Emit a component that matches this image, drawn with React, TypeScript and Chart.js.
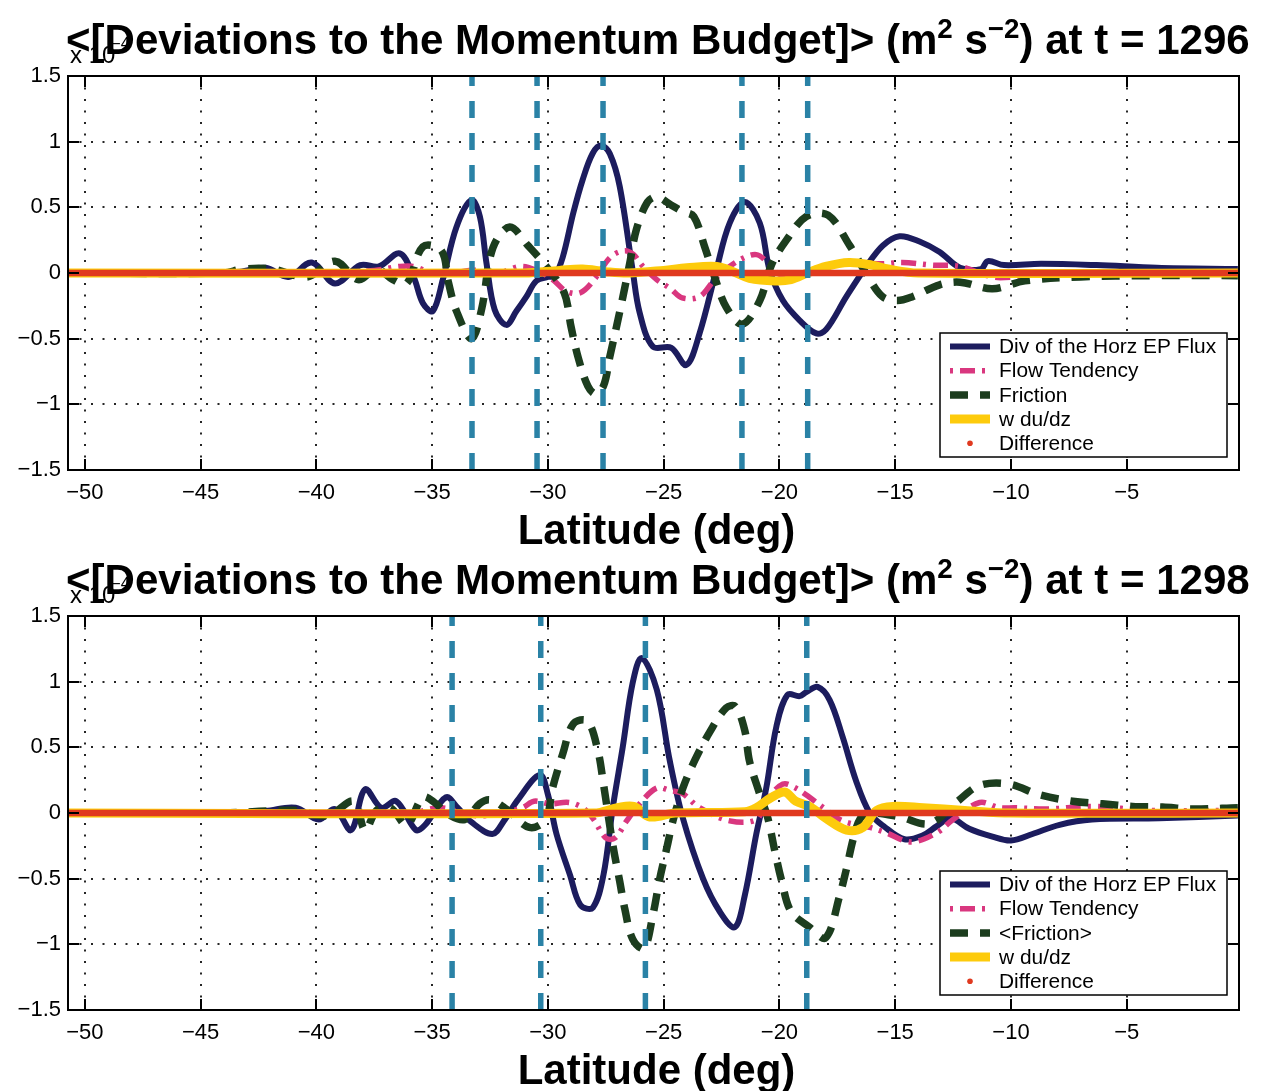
import React, { useEffect, useRef } from "react";
import { Chart, registerables } from "chart.js";

Chart.register(...registerables);

// Axis ranges and ticks (values are in units of 1e-4 m^2 s^-2)
const LAT_MIN = -50.73;
const LAT_MAX = -0.15;
const LAT_TICKS = [-50, -45, -40, -35, -30, -25, -20, -15, -10, -5];
const VAL_TICKS = [-1.5, -1, -0.5, 0, 0.5, 1, 1.5];

type Pt = [number, number];

// ---------- t = 1296 ----------
const epFlux1296: Pt[] = [
  [-50.7, 0], [-45.0, 0], [-43.3, 0.01], [-42.2, 0.04], [-41.2, -0.03], [-40.2, 0.08],
  [-39.2, -0.08], [-38.1, 0.06], [-37.3, 0.05], [-36.4, 0.15], [-35.8, -0.03], [-35.4, -0.23],
  [-34.97, -0.29], [-34.54, -0.05], [-33.95, 0.35], [-33.3, 0.555], [-32.94, 0.43], [-32.65, 0.07],
  [-32.3, -0.28], [-31.8, -0.395], [-31.36, -0.29], [-30.93, -0.18], [-30.5, -0.06], [-30.0, -0.03],
  [-29.7, -0.02], [-29.36, 0.12], [-28.9, 0.46], [-28.5, 0.71], [-28.07, 0.91], [-27.7, 0.97],
  [-27.33, 0.91], [-26.9, 0.66], [-26.34, 0.02], [-26.04, -0.3], [-25.47, -0.56], [-24.67, -0.57],
  [-24.02, -0.7], [-23.45, -0.46], [-22.73, 0.02], [-22.15, 0.38], [-21.5, 0.54], [-20.85, 0.38],
  [-20.42, 0.02], [-19.85, -0.21], [-19.13, -0.36], [-18.41, -0.46], [-17.98, -0.43], [-17.11, -0.18],
  [-16.25, 0.05], [-15.53, 0.21], [-14.81, 0.28], [-13.95, 0.24], [-13.08, 0.16], [-12.2, 0.04],
  [-11.3, 0.03], [-11.0, 0.09], [-10.3, 0.06], [-8.7, 0.07], [-6.3, 0.06], [-3.7, 0.04], [-0.2, 0.03],
];
const tendency1296: Pt[] = [
  [-50.7, 0], [-40, 0], [-37.5, 0.02], [-36.4, 0.05], [-35.8, 0.05], [-35.0, 0.0], [-34.2, 0.0],
  [-33.1, 0.02], [-32.3, -0.01], [-31.2, 0.05], [-30.5, 0.02], [-29.8, -0.05], [-29.2, -0.14],
  [-28.6, -0.15], [-28.0, -0.05], [-27.3, 0.12], [-26.7, 0.17], [-26.3, 0.14], [-25.9, 0.05],
  [-25.3, -0.05], [-24.7, -0.12], [-24.2, -0.19], [-23.45, -0.18], [-22.8, -0.05], [-22.3, 0.03],
  [-21.6, 0.11], [-21.0, 0.14], [-20.57, 0.09], [-20.1, 0.0], [-19.4, -0.02], [-18.3, 0.04],
  [-16.8, 0.075], [-15.5, 0.07], [-14.7, 0.08], [-13.4, 0.06], [-12.2, 0.05], [-10.8, -0.03],
  [-9.9, -0.03], [-8.5, 0.0], [-0.2, 0.0],
];
const friction1296: Pt[] = [
  [-50.7, 0], [-44.0, 0], [-43.2, 0.03], [-41.9, 0.03], [-40.4, -0.03], [-39.2, 0.09], [-38.2, -0.05],
  [-37.4, 0.03], [-36.7, -0.05], [-36.1, -0.08], [-35.4, 0.2], [-34.6, 0.17], [-34.3, -0.07],
  [-33.95, -0.29], [-33.3, -0.5], [-32.87, -0.28], [-32.38, 0.19], [-31.65, 0.35], [-30.87, 0.21],
  [-30.07, 0.05], [-29.3, -0.15], [-29.0, -0.41], [-28.7, -0.64], [-28.28, -0.86], [-27.95, -0.92],
  [-27.6, -0.86], [-27.33, -0.64], [-27.04, -0.41], [-26.76, -0.18], [-26.47, 0.07], [-26.18, 0.33],
  [-25.7, 0.54], [-25.3, 0.58], [-24.7, 0.52], [-24.2, 0.47], [-23.7, 0.43], [-23.23, 0.2],
  [-22.8, -0.03], [-22.3, -0.26], [-21.6, -0.39], [-20.85, -0.21], [-20.35, 0.06], [-19.7, 0.25],
  [-18.84, 0.43], [-17.9, 0.44], [-16.97, 0.21], [-16.2, -0.02], [-15.55, -0.18], [-14.9, -0.21],
  [-14.25, -0.18], [-13.08, -0.09], [-12.2, -0.07], [-10.8, -0.12], [-9.4, -0.06], [-7.0, -0.03],
  [-4.0, -0.02], [-0.2, -0.02],
];
const wdudz1296: Pt[] = [
  [-50.7, 0], [-31, 0], [-29.5, 0.02], [-28.5, 0.03], [-27.5, 0.01], [-26.5, 0], [-25, 0.02],
  [-24, 0.04], [-22.7, 0.05], [-22, 0.01], [-21.3, -0.04], [-20.2, -0.06], [-19.5, -0.05],
  [-18.8, 0], [-18, 0.05], [-17, 0.08], [-16, 0.06], [-15.3, 0.03], [-14, 0], [-0.2, 0],
];
const difference1296: Pt[] = [[-50.7, 0], [-25, 0], [-0.2, 0]];
const markers1296 = [-33.28, -30.47, -27.62, -21.62, -18.78];

// ---------- t = 1298 ----------
const epFlux1298: Pt[] = [
  [-50.7, 0], [-44, 0], [-42.2, 0.015], [-40.9, 0.04], [-39.9, -0.05], [-39.2, 0.03], [-38.5, -0.13],
  [-37.9, 0.18], [-37.2, 0.04], [-36.55, 0.09], [-35.7, -0.13], [-35.3, -0.09], [-34.4, 0.12],
  [-33.9, 0.04], [-33.3, -0.07], [-32.4, -0.16], [-31.9, -0.06], [-31.3, 0.1], [-30.35, 0.29],
  [-30.0, 0.14], [-29.63, -0.16], [-29.05, -0.47], [-28.6, -0.7], [-28.06, -0.72], [-27.6, -0.47],
  [-27.2, 0.04], [-26.77, 0.5], [-26.34, 0.99], [-25.95, 1.18], [-25.3, 0.94], [-24.74, 0.4],
  [-24.17, -0.04], [-23.3, -0.5], [-22.58, -0.75], [-21.93, -0.87], [-21.5, -0.63], [-21.0, -0.16],
  [-20.57, 0.19], [-20.13, 0.66], [-19.65, 0.9], [-19.13, 0.89], [-18.84, 0.92], [-18.35, 0.96],
  [-17.83, 0.86], [-17.27, 0.58], [-16.7, 0.25], [-16.1, 0.0], [-15.5, -0.1], [-14.6, -0.2],
  [-13.8, -0.17], [-13.2, -0.1], [-12.6, -0.04], [-11.8, -0.12], [-10.8, -0.18], [-10.0, -0.21],
  [-9.07, -0.16], [-7.9, -0.09], [-6.5, -0.05], [-3.6, -0.04], [-0.2, -0.02],
];
const tendency1298: Pt[] = [
  [-50.7, 0], [-36, 0], [-34.6, 0.04], [-33.2, -0.02], [-32, 0.0], [-31.1, 0.04], [-30.6, 0.09],
  [-29.9, 0.07], [-29.1, 0.08], [-28.5, 0.04], [-28.06, -0.04], [-27.5, -0.19], [-27.1, -0.19],
  [-26.6, -0.06], [-26.04, 0.07], [-25.3, 0.19], [-24.7, 0.17], [-24.2, 0.15], [-23.45, 0.04],
  [-22.15, -0.06], [-21.0, -0.05], [-20.57, 0.09], [-19.85, 0.22], [-19.3, 0.19], [-18.7, 0.12],
  [-18.1, 0.04], [-17.27, -0.06], [-16.1, -0.11], [-15.4, -0.15], [-14.3, -0.22], [-13.2, -0.15],
  [-12.5, -0.05], [-11.35, 0.08], [-10.5, 0.04], [-9.8, 0.04], [-8.5, 0.03], [-6.5, 0.05],
  [-4, 0.02], [-0.2, 0.02],
];
const friction1298: Pt[] = [
  [-50.7, 0], [-44, 0], [-41, 0.02], [-39.5, -0.02], [-38.4, 0.09], [-37.9, -0.13], [-37.4, 0.02],
  [-36.8, 0.04], [-36.1, -0.09], [-35.4, 0.12], [-34.9, 0.08], [-34.4, 0.0], [-33.6, -0.05],
  [-32.95, 0.07], [-32.5, 0.1], [-31.8, 0.03], [-30.8, -0.11], [-30.1, -0.05], [-29.8, 0.19],
  [-29.36, 0.45], [-28.9, 0.68], [-28.3, 0.7], [-27.85, 0.48], [-27.6, 0.22], [-27.2, -0.24],
  [-26.9, -0.52], [-26.68, -0.73], [-26.34, -0.96], [-25.85, -1.03], [-25.47, -0.78], [-25.17, -0.5],
  [-24.87, -0.27], [-24.6, -0.06], [-24.17, 0.19], [-23.66, 0.4], [-23.0, 0.62], [-22.3, 0.8],
  [-21.9, 0.81], [-21.5, 0.63], [-21.3, 0.4], [-20.9, 0.17], [-20.5, -0.04], [-20.2, -0.29],
  [-19.9, -0.52], [-19.5, -0.75], [-18.7, -0.87], [-18.0, -0.95], [-17.4, -0.63], [-17.1, -0.42],
  [-16.8, -0.19], [-16.5, -0.04], [-16.1, 0.0], [-14.8, -0.03], [-13.5, -0.08], [-12.3, 0.09],
  [-11.35, 0.21], [-10.06, 0.22], [-8.8, 0.14], [-7.34, 0.09], [-6.05, 0.07], [-4.75, 0.05],
  [-3.45, 0.045], [-2.2, 0.03], [-0.2, 0.04],
];
const wdudz1298: Pt[] = [
  [-50.7, 0], [-28, 0], [-27, 0.04], [-26.3, 0.05], [-25.6, -0.03], [-24.5, 0], [-21.5, 0.01],
  [-21, 0.04], [-20.42, 0.11], [-19.78, 0.16], [-19.3, 0.09], [-18.7, 0.05], [-18.0, -0.04],
  [-17.1, -0.13], [-16.4, -0.11], [-15.8, 0.02], [-15.1, 0.05], [-13.8, 0.04], [-12, 0.02],
  [-10, 0], [-0.2, 0],
];
const difference1298: Pt[] = [[-50.7, 0], [-25, 0], [-0.2, 0]];
const markers1298 = [-34.14, -30.31, -25.79, -18.82];

// ---------- styling ----------
const NAVY = "#1c1c5e";
const PINK = "#d9377f";
const GREEN = "#1c3d1e";
const GOLD = "#fdcb0c";
const RED = "#e0391f";
const TEAL = "#2a82a6";
const FONT = '"Liberation Sans", Arial, Helvetica, sans-serif';

const W = 1266;

interface SeriesStyle {
  label: string;
  color: string;
  width: number;
  dash: number[];
  dashOffset: number;
  dot?: boolean;
}

const fmt = (v: number) => (v < 0 ? "\u2212" + Math.abs(v) : String(v));

function drawTitle(ctx: CanvasRenderingContext2D, x: number, y: number, t: number, targetW: number) {
  const parts: [string, boolean][] = [
    ["<[Deviations to the Momentum Budget]> (m", false],
    ["2", true],
    [" s", false],
    ["\u22122", true],
    [") at t = " + t, false],
  ];
  const fontFor = (size: number, sup: boolean) => `bold ${sup ? size * 0.66 : size}px ${FONT}`;
  const measure = (size: number) =>
    parts.reduce((w, [s, sup]) => {
      ctx.font = fontFor(size, sup);
      return w + ctx.measureText(s).width;
    }, 0);
  const size = (100 * targetW) / measure(100);
  let cx = x;
  ctx.fillStyle = "#000";
  ctx.textAlign = "left";
  ctx.textBaseline = "alphabetic";
  for (const [s, sup] of parts) {
    ctx.font = fontFor(size, sup);
    ctx.fillText(s, cx, sup ? y - size * 0.38 : y);
    cx += ctx.measureText(s).width;
  }
}

function makeDecor(t: number, legend: SeriesStyle[], legendTop: number) {
  return {
    id: "panelDecor",
    beforeDatasetsDraw(chart: any) {
      const { ctx, chartArea: a, scales } = chart;
      ctx.save();
      ctx.strokeStyle = "rgba(0,0,0,0.85)";
      ctx.lineWidth = 2;
      ctx.setLineDash([2, 9.5]);
      for (const v of LAT_TICKS) {
        const px = Math.round(scales.x.getPixelForValue(v));
        ctx.beginPath();
        ctx.moveTo(px, a.top);
        ctx.lineTo(px, a.bottom);
        ctx.stroke();
      }
      for (const v of VAL_TICKS) {
        if (Math.abs(v) >= 1.5) continue;
        const py = Math.round(scales.y.getPixelForValue(v));
        ctx.beginPath();
        ctx.moveTo(a.left, py);
        ctx.lineTo(a.right, py);
        ctx.stroke();
      }
      ctx.restore();
    },
    afterDatasetsDraw(chart: any) {
      const { ctx, chartArea: a, scales } = chart;
      ctx.save();
      // axes box with inward ticks on all four sides
      ctx.strokeStyle = "#000";
      ctx.lineWidth = 2;
      ctx.setLineDash([]);
      ctx.strokeRect(a.left, a.top, a.right - a.left, a.bottom - a.top);
      const tl = 11;
      ctx.beginPath();
      for (const v of LAT_TICKS) {
        const px = Math.round(scales.x.getPixelForValue(v));
        ctx.moveTo(px, a.bottom);
        ctx.lineTo(px, a.bottom - tl);
        ctx.moveTo(px, a.top);
        ctx.lineTo(px, a.top + tl);
      }
      for (const v of VAL_TICKS) {
        const py = Math.round(scales.y.getPixelForValue(v));
        ctx.moveTo(a.left, py);
        ctx.lineTo(a.left + tl, py);
        ctx.moveTo(a.right, py);
        ctx.lineTo(a.right - tl, py);
      }
      ctx.stroke();

      // legend box
      const bx = 940;
      const bw = 287;
      const bh = 124;
      ctx.fillStyle = "#fff";
      ctx.fillRect(bx, legendTop, bw, bh);
      ctx.lineWidth = 1.5;
      ctx.strokeRect(bx, legendTop, bw, bh);
      ctx.font = `20.9px ${FONT}`;
      ctx.textBaseline = "middle";
      ctx.textAlign = "left";
      legend.forEach((s, i) => {
        const y = legendTop + 13.5 + i * 24.2;
        if (s.dot) {
          ctx.fillStyle = s.color;
          ctx.beginPath();
          ctx.arc(970, y, 2.8, 0, Math.PI * 2);
          ctx.fill();
        } else {
          ctx.strokeStyle = s.color;
          ctx.lineWidth = s.width;
          ctx.setLineDash(s.dash);
          ctx.lineDashOffset = s.dashOffset;
          ctx.beginPath();
          ctx.moveTo(950, y);
          ctx.lineTo(990, y);
          ctx.stroke();
          ctx.setLineDash([]);
          ctx.lineDashOffset = 0;
        }
        ctx.fillStyle = "#000";
        ctx.fillText(s.label, 999, y + 1);
      });
      ctx.restore();
    },
    afterDraw(chart: any) {
      const { ctx, chartArea: a } = chart;
      ctx.save();
      // axis multiplier, partly covered by the title
      ctx.fillStyle = "#000";
      ctx.textBaseline = "alphabetic";
      ctx.textAlign = "left";
      ctx.font = `24px ${FONT}`;
      ctx.fillText("x 10", 70, a.top - 13);
      const w = ctx.measureText("x 10").width;
      ctx.font = `16px ${FONT}`;
      ctx.fillText("\u22124", 70 + w - 4, a.top - 27);
      drawTitle(ctx, 66, a.top - 22, t, 1184);
      ctx.font = `bold 42px ${FONT}`;
      ctx.textAlign = "center";
      ctx.fillText("Latitude (deg)", (a.left + a.right) / 2 + 3, a.bottom + 74);
      ctx.restore();
    },
  };
}

function series(s: SeriesStyle, pts: Pt[], order: number) {
  return {
    label: s.label,
    data: pts.map(([x, y]) => ({ x, y })),
    borderColor: s.color,
    backgroundColor: s.color,
    borderWidth: s.width,
    borderDash: s.dash,
    borderDashOffset: s.dashOffset,
    borderCapStyle: "butt",
    borderJoinStyle: "round",
    pointRadius: 0,
    tension: 0.35,
    fill: false,
    order,
  };
}

interface PanelProps {
  t: number;
  frictionLabel: string;
  epFlux: Pt[];
  tendency: Pt[];
  friction: Pt[];
  wdudz: Pt[];
  difference: Pt[];
  markers: number[];
  top: number;
  height: number;
  legendTop: number;
}

function Panel(p: PanelProps) {
  const ref = useRef<HTMLCanvasElement | null>(null);
  useEffect(() => {
    const styles: SeriesStyle[] = [
      { label: "Div of the Horz EP Flux", color: NAVY, width: 6, dash: [], dashOffset: 0 },
      { label: "Flow Tendency", color: PINK, width: 5.5, dash: [15, 7, 3, 7], dashOffset: 22 },
      { label: p.frictionLabel, color: GREEN, width: 7.5, dash: [18, 12], dashOffset: 0 },
      { label: "w du/dz", color: GOLD, width: 9, dash: [], dashOffset: 0 },
      { label: "Difference", color: RED, width: 6.5, dash: [], dashOffset: 0, dot: true },
    ];
    const datasets: any[] = [
      series(styles[0], p.epFlux, 6),
      series(styles[1], p.tendency, 5),
      series(styles[2], p.friction, 4),
      series(styles[3], p.wdudz, 3),
      series(styles[4], p.difference, 2),
      ...p.markers.map((lat) => ({
        label: "marker",
        data: [
          { x: lat, y: -1.5 },
          { x: lat, y: 1.5 },
        ],
        borderColor: TEAL,
        borderWidth: 5.5,
        borderDash: [17, 15],
        borderCapStyle: "butt",
        pointRadius: 0,
        tension: 0,
        fill: false,
        order: 1,
      })),
    ];
    const chart = new Chart(ref.current as HTMLCanvasElement, {
      type: "line",
      data: { datasets },
      options: {
        animation: false,
        responsive: false,
        maintainAspectRatio: false,
        devicePixelRatio: 1,
        events: [],
        layout: { padding: { left: 0, right: 27, top: 76, bottom: 0 } },
        plugins: {
          legend: { display: false },
          tooltip: { enabled: false },
          title: { display: false },
        },
        scales: {
          x: {
            type: "linear",
            min: LAT_MIN,
            max: LAT_MAX,
            afterBuildTicks: (s: any) => {
              s.ticks = LAT_TICKS.map((value) => ({ value }));
            },
            afterFit: (s: any) => {
              s.height = p.height - 470;
            },
            grid: { display: false, drawTicks: false },
            border: { display: false },
            ticks: {
              autoSkip: false,
              maxRotation: 0,
              padding: 10,
              color: "#000",
              font: { family: FONT, size: 22 },
              callback: (v: any) => fmt(Number(v)),
            },
          },
          y: {
            type: "linear",
            min: -1.5,
            max: 1.5,
            afterBuildTicks: (s: any) => {
              s.ticks = VAL_TICKS.map((value) => ({ value }));
            },
            afterFit: (s: any) => {
              s.width = 68;
            },
            grid: { display: false, drawTicks: false },
            border: { display: false },
            ticks: {
              autoSkip: false,
              padding: 7,
              color: "#000",
              font: { family: FONT, size: 22 },
              callback: (v: any) => fmt(Number(v)),
            },
          },
        },
      } as any,
      plugins: [makeDecor(p.t, styles, p.legendTop)],
    });
    return () => chart.destroy();
  }, []);
  return (
    <canvas
      ref={ref}
      width={W}
      height={p.height}
      style={{ position: "absolute", left: 0, top: p.top, width: W, height: p.height }}
    />
  );
}

export default function App() {
  return (
    <div style={{ position: "absolute", left: 0, top: 0, width: W, height: 1091, background: "#fff", overflow: "hidden" }}>
      <Panel
        t={1296}
        frictionLabel="Friction"
        epFlux={epFlux1296}
        tendency={tendency1296}
        friction={friction1296}
        wdudz={wdudz1296}
        difference={difference1296}
        markers={markers1296}
        top={0}
        height={560}
        legendTop={333}
      />
      <Panel
        t={1298}
        frictionLabel="<Friction>"
        epFlux={epFlux1298}
        tendency={tendency1298}
        friction={friction1298}
        wdudz={wdudz1298}
        difference={difference1298}
        markers={markers1298}
        top={540}
        height={551}
        legendTop={331}
      />
    </div>
  );
}
